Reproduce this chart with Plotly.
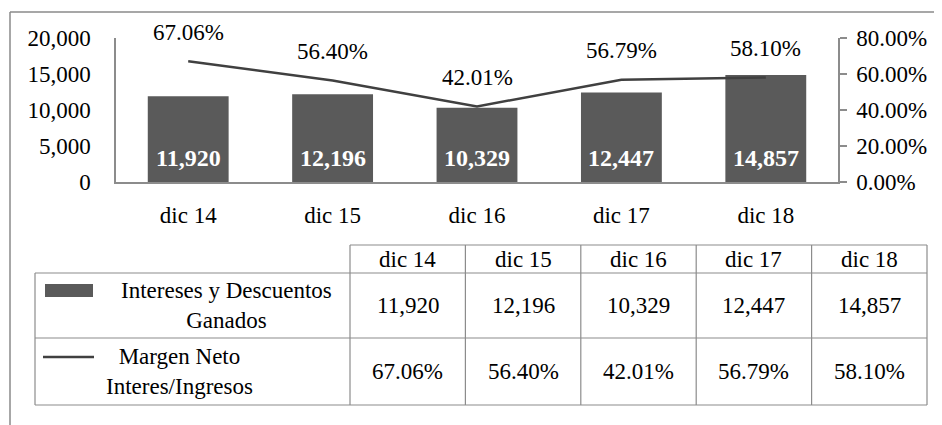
import plotly.graph_objects as go

# ---- data ----
categories = ["dic 14", "dic 15", "dic 16", "dic 17", "dic 18"]
intereses = [11920, 12196, 10329, 12447, 14857]
margen = [67.06, 56.40, 42.01, 56.79, 58.10]
series_names = ["Intereses y Descuentos<br>Ganados", "Margen Neto<br>Interes/Ingresos"]
left_ticks = [0, 5000, 10000, 15000, 20000]
right_ticks = [0, 20, 40, 60, 80]

# page body has an 8px margin -> figure is offset by 8px; work in window pixels
OFF = 8
W, H = 942 - OFF, 425 - OFF
FONT = "Liberation Serif, Times New Roman, serif"
FS = 23
BAR_COLOR = "#5a5a5a"
LINE_COLOR = "#404040"
GRID = "#8c8c8c"


def px(x):
    return (x - OFF) / W


def py(y):
    return 1 - (y - OFF) / H


fig = go.Figure()

fig.add_trace(go.Bar(
    x=categories, y=intereses, name="Intereses y Descuentos Ganados",
    marker=dict(color=BAR_COLOR, line=dict(width=0)),
    width=0.56, yaxis="y", hoverinfo="x+y",
))
fig.add_trace(go.Scatter(
    x=categories, y=[m / 100 for m in margen], name="Margen Neto Interes/Ingresos",
    mode="lines", line=dict(color=LINE_COLOR, width=2.5), yaxis="y2",
))

annotations = []
# line labels above points
for c, m in zip(categories, margen):
    annotations.append(dict(x=c, y=m / 100, xref="x", yref="y2", text=f"{m:.2f}%",
                            showarrow=False, yshift=29, xanchor="center", yanchor="middle",
                            font=dict(family=FONT, size=FS, color="#000")))
# bar labels inside at base
for c, v in zip(categories, intereses):
    annotations.append(dict(x=c, y=0, xref="x", yref="y", text=f"<b>{v:,}</b>",
                            showarrow=False, yshift=24, xanchor="center", yanchor="middle",
                            font=dict(family=FONT, size=24, color="#ffffff")))

# ---- data table ----
shapes = []
col_left = 350
col_right = 927
n = len(categories)
cw = (col_right - col_left) / n
hdr_top, hdr_bot = 245, 273
r1_bot, r2_bot = 338, 405
tbl_left = 35
lw = 1.2


def hline(x0, x1, y):
    shapes.append(dict(type="line", xref="paper", yref="paper", x0=px(x0), x1=px(x1),
                       y0=py(y), y1=py(y), line=dict(color=GRID, width=lw)))


def vline(x, y0, y1):
    shapes.append(dict(type="line", xref="paper", yref="paper", x0=px(x), x1=px(x),
                       y0=py(y0), y1=py(y1), line=dict(color=GRID, width=lw)))


hline(col_left, col_right, hdr_top)
hline(tbl_left, col_right, hdr_bot)
hline(tbl_left, col_right, r1_bot)
hline(tbl_left, col_right, r2_bot)
vline(tbl_left, hdr_bot, r2_bot)
for i in range(n + 1):
    vline(col_left + i * cw, hdr_top, r2_bot)

TFONT = dict(family=FONT, size=23, color="#000")


def label(x, y, text, **kw):
    annotations.append(dict(x=px(x), y=py(y), xref="paper", yref="paper", text=text,
                            showarrow=False, xanchor="center", yanchor="middle",
                            font=TFONT, **kw))


for i, c in enumerate(categories):
    cx = col_left + (i + 0.5) * cw
    label(cx, (hdr_top + hdr_bot) / 2, c)
    label(cx, (hdr_bot + r1_bot) / 2, f"{intereses[i]:,}")
    label(cx, (r1_bot + r2_bot) / 2, f"{margen[i]:.2f}%")

# legend keys
shapes.append(dict(type="rect", xref="paper", yref="paper", x0=px(45), x1=px(93),
                   y0=py(297), y1=py(284), fillcolor=BAR_COLOR, line=dict(width=0)))
shapes.append(dict(type="line", xref="paper", yref="paper", x0=px(43), x1=px(94),
                   y0=py(357), y1=py(357), line=dict(color=LINE_COLOR, width=2.5)))
label(226, (hdr_bot + r1_bot) / 2, series_names[0], align="center")
label(179, (r1_bot + r2_bot) / 2, series_names[1], align="center")

# outer frame (top and left)
shapes.append(dict(type="line", xref="paper", yref="paper", x0=px(10), x1=1,
                   y0=py(12), y1=py(12), line=dict(color="#8a8a8a", width=1.5)))
shapes.append(dict(type="line", xref="paper", yref="paper", x0=px(10), x1=px(10),
                   y0=py(12), y1=0, line=dict(color="#8a8a8a", width=1.5)))

fig.update_layout(
    width=W, height=H,
    autosize=False,
    margin=dict(l=0, r=0, t=0, b=0, pad=0, autoexpand=False),
    paper_bgcolor="white", plot_bgcolor="white",
    showlegend=False,
    font=dict(family=FONT, size=FS, color="#000"),
    xaxis=dict(domain=[px(116), px(838)], showgrid=False, zeroline=False, automargin=False,
               showline=True, linecolor=GRID, linewidth=1.5,
               ticks="outside", ticklen=0, ticklabelstandoff=12,
               tickfont=dict(family=FONT, size=FS, color="#000"), fixedrange=True),
    yaxis=dict(domain=[py(182), py(38)], range=[0, 20000], tickvals=left_ticks, automargin=False,
               tickformat=",d", showgrid=False, zeroline=False,
               showline=True, linecolor=GRID, linewidth=1.5,
               ticks="", ticklabelstandoff=19,
               tickfont=dict(family=FONT, size=FS, color="#000")),
    yaxis2=dict(domain=[py(182), py(38)], overlaying="y", side="right", anchor="x", automargin=False,
                range=[0, 0.8], tickvals=[t / 100 for t in right_ticks], tickformat=".2%",
                showgrid=False, zeroline=False, showline=True, linecolor=GRID, linewidth=1.5,
                ticks="outside", ticklen=7, tickcolor=GRID, tickwidth=1.5, ticklabelstandoff=5,
                tickfont=dict(family=FONT, size=FS, color="#000")),
    shapes=shapes,
    annotations=annotations,
)

fig.write_html("out.html")
